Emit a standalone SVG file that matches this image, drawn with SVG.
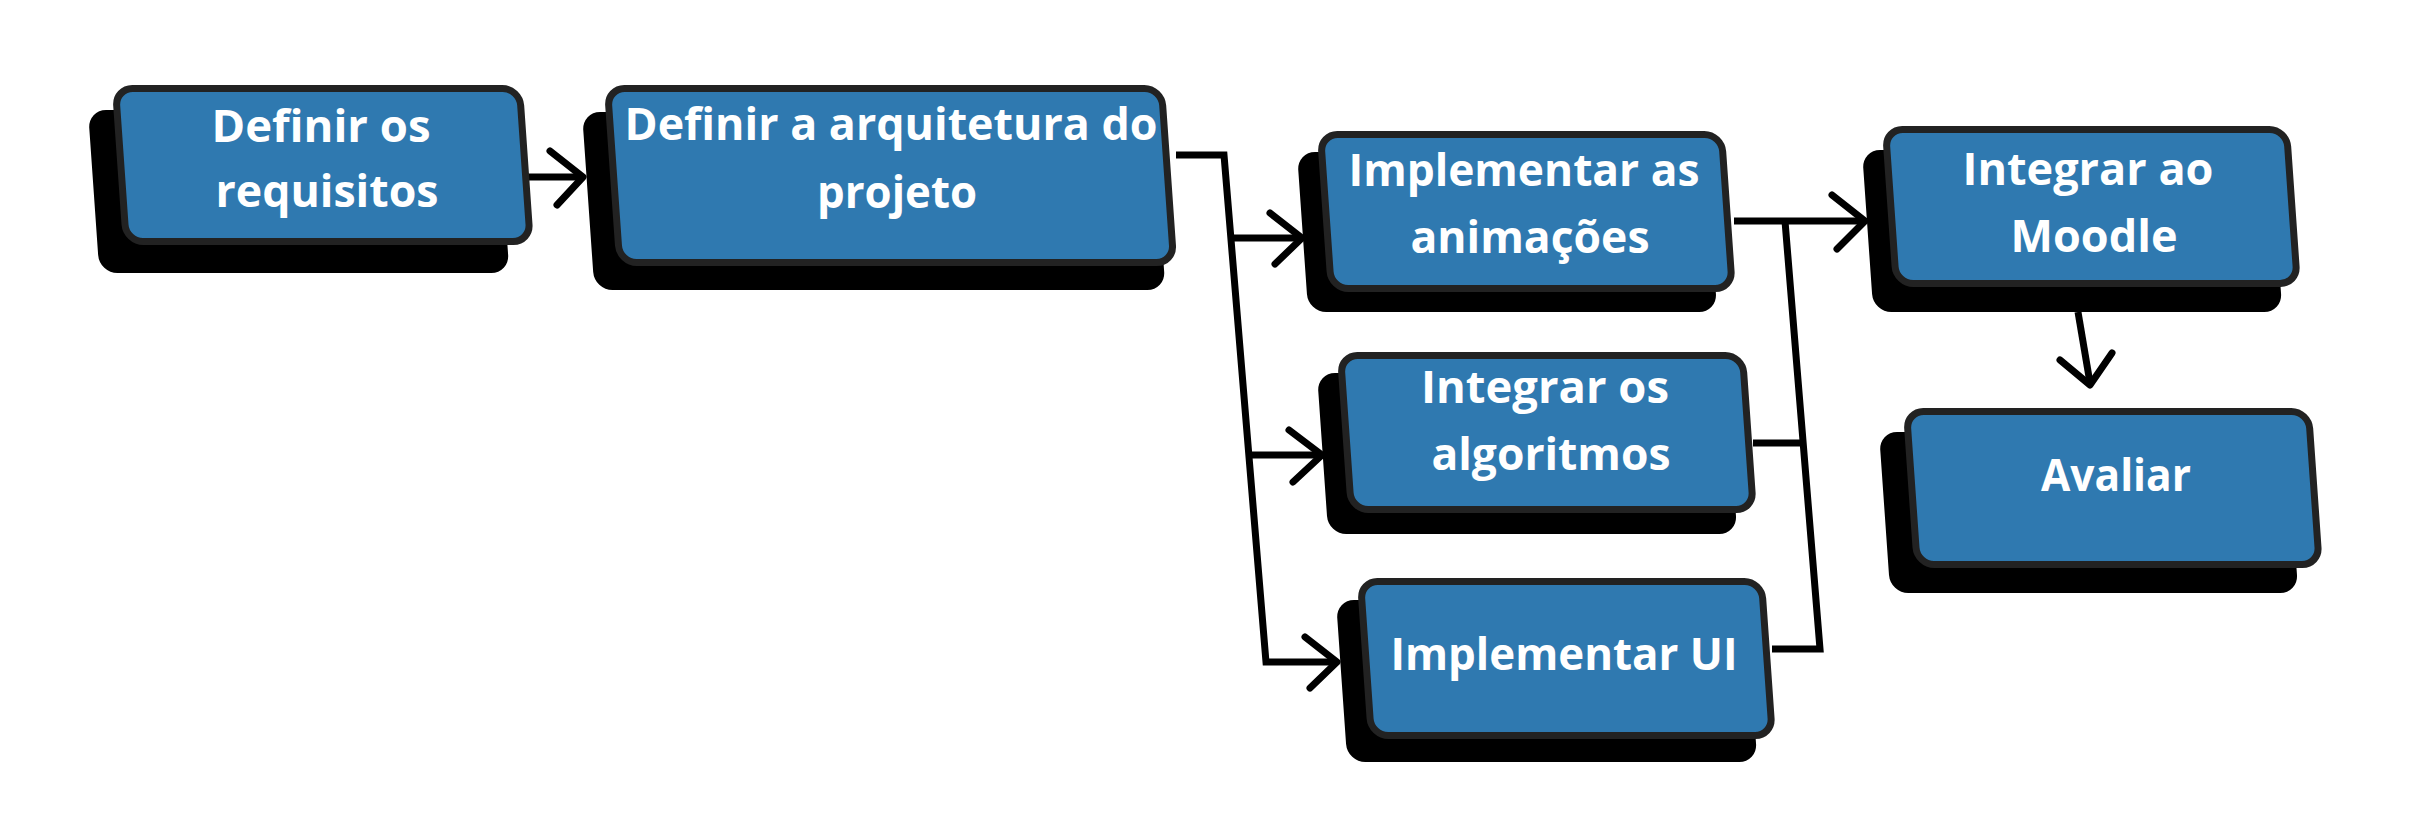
<svg xmlns="http://www.w3.org/2000/svg" width="2421" height="834" viewBox="0 0 2421 834">
<style>
.shadow{fill:#000}
.box{fill:#2f79b0;stroke:#222;stroke-width:7}
.lbl{font-family:"Open Sans","Noto Sans","Liberation Sans",sans-serif;font-weight:700;font-size:45px;fill:#fff;text-anchor:middle}
.conn{fill:none;stroke:#000;stroke-width:7;stroke-linejoin:miter}
.head{fill:none;stroke:#000;stroke-width:7;stroke-linecap:round;stroke-linejoin:round}
</style>
<rect width="2421" height="834" fill="#fff"/>
<g id="connectors">
  <path class="conn" d="M528 177 L581 177"/>
  <path class="head" d="M550 151 L583 177 L557 205"/>
  <path class="conn" d="M1176 155 L1224 155 L1266 662 L1335 662"/>
  <path class="conn" d="M1231 238 L1300 238"/>
  <path class="head" d="M1270 213 L1302 238 L1275 264"/>
  <path class="conn" d="M1249 455 L1320 455"/>
  <path class="head" d="M1289 430 L1322 455 L1293 482"/>
  <path class="head" d="M1305 637 L1337 662 L1310 688"/>
  <path class="conn" d="M1734 221 L1862 221"/>
  <path class="head" d="M1832 195 L1865 221 L1837 249"/>
  <path class="conn" d="M1785 221 L1820 649 L1772 649"/>
  <path class="conn" d="M1753 443 L1803 443"/>
  <path class="conn" d="M2078 312 L2090 383"/>
  <path class="head" d="M2060 360 L2090 385 L2112 353"/>
</g>
<g id="n1">
  <rect class="shadow" transform="translate(88,110) skewX(4)" width="410" height="163" rx="18"/>
  <rect class="box" transform="translate(115.5,88.5) skewX(4)" width="404" height="153" rx="17"/>
  <text class="lbl" x="321" y="142" textLength="219" lengthAdjust="spacingAndGlyphs">Definir os</text>
  <text class="lbl" x="327" y="207" textLength="223" lengthAdjust="spacingAndGlyphs">requisitos</text>
</g>
<g id="n2">
  <rect class="shadow" transform="translate(582,112) skewX(4)" width="571" height="178" rx="18"/>
  <rect class="box" transform="translate(607.5,88.5) skewX(4)" width="554" height="174" rx="17"/>
  <text class="lbl" x="891" y="140" textLength="533" lengthAdjust="spacingAndGlyphs">Definir a arquitetura do</text>
  <text class="lbl" x="897" y="208" textLength="160" lengthAdjust="spacingAndGlyphs">projeto</text>
</g>
<g id="n3">
  <rect class="shadow" transform="translate(1297,152) skewX(4)" width="409" height="160" rx="18"/>
  <rect class="box" transform="translate(1320.5,134.5) skewX(4)" width="401" height="154" rx="17"/>
  <text class="lbl" x="1524" y="186" textLength="351" lengthAdjust="spacingAndGlyphs">Implementar as</text>
  <text class="lbl" x="1530" y="253" textLength="239" lengthAdjust="spacingAndGlyphs">animações</text>
</g>
<g id="n4">
  <rect class="shadow" transform="translate(1317,373) skewX(4)" width="409" height="161" rx="18"/>
  <rect class="box" transform="translate(1340.5,355.5) skewX(4)" width="402" height="154" rx="17"/>
  <text class="lbl" x="1545" y="403" textLength="248" lengthAdjust="spacingAndGlyphs">Integrar os</text>
  <text class="lbl" x="1551" y="470" textLength="239" lengthAdjust="spacingAndGlyphs">algoritmos</text>
</g>
<g id="n5">
  <rect class="shadow" transform="translate(1336,600) skewX(4)" width="410" height="162" rx="18"/>
  <rect class="box" transform="translate(1360.5,581.5) skewX(4)" width="401" height="154" rx="17"/>
  <text class="lbl" x="1564" y="670" textLength="347" lengthAdjust="spacingAndGlyphs">Implementar UI</text>
</g>
<g id="n6">
  <rect class="shadow" transform="translate(1862,150) skewX(4)" width="409" height="162" rx="18"/>
  <rect class="box" transform="translate(1885.5,129.5) skewX(4)" width="401" height="154" rx="17"/>
  <text class="lbl" x="2088" y="185" textLength="251" lengthAdjust="spacingAndGlyphs">Integrar ao</text>
  <text class="lbl" x="2094" y="252" textLength="167" lengthAdjust="spacingAndGlyphs">Moodle</text>
</g>
<g id="n7">
  <rect class="shadow" transform="translate(1879,432) skewX(4)" width="408" height="161" rx="18"/>
  <rect class="box" transform="translate(1906.5,411.5) skewX(4)" width="402" height="153" rx="17"/>
  <text class="lbl" x="2116" y="491" textLength="150" lengthAdjust="spacingAndGlyphs">Avaliar</text>
</g>
</svg>
